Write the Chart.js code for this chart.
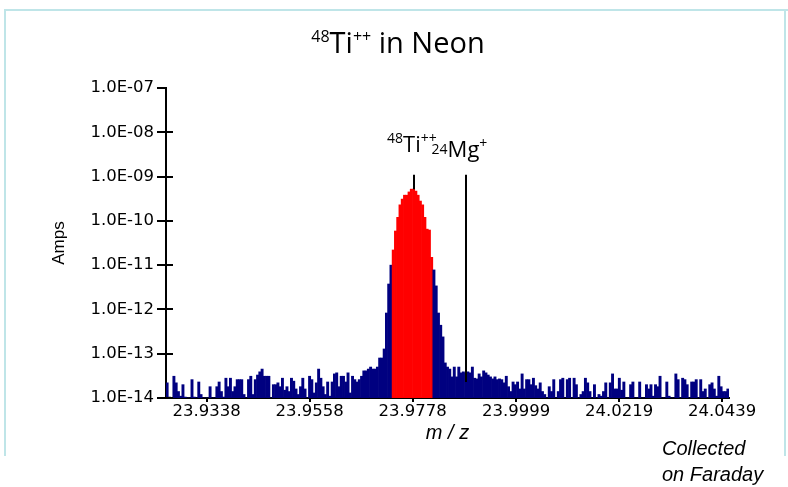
<!DOCTYPE html>
<html><head><meta charset="utf-8">
<script src="https://cdn.jsdelivr.net/npm/chart.js@4.4.1/dist/chart.umd.min.js"></script>
<style>html,body{margin:0;padding:0;background:#fff;}#wrap{width:788px;height:487px;position:relative;}</style>
</head><body><div id="wrap"><canvas id="c" width="788" height="487"></canvas></div>
<script>
// ---- data ----
const titleParts = ['48', 'Ti', '++', ' in Neon'];
const yAxisTitle = 'Amps';
const xAxisTitle = 'm / z';
const footnote = ['Collected', 'on Faraday'];
const xTickValues = [23.9338, 23.9558, 23.9778, 23.9999, 24.0219, 24.0439];
const xTickLabels = ['23.9338', '23.9558', '23.9778', '23.9999', '24.0219', '24.0439'];
const yTickValues = [1e-14, 1e-13, 1e-12, 1e-11, 1e-10, 1e-9, 1e-8, 1e-7];
const yTickLabels = ['1.0E-14', '1.0E-13', '1.0E-12', '1.0E-11', '1.0E-10', '1.0E-09', '1.0E-08', '1.0E-07'];
const scanStart = 23.92534;   // m/z of first scan step
const scanStep = 0.000483;    // m/z per scan step
const amps = [
 2.2e-14,1.05e-14,1.0e-14,3.1e-14,2.2e-14,1.4e-14,1.1e-14,2.0e-14,1.05e-14,1.0e-14,
 1.0e-14,2.6e-14,1.05e-14,1.0e-14,2.3e-14,1.2e-14,1.0e-14,1.0e-14,1.0e-14,1.8e-14,
 1.0e-14,1.0e-14,1.8e-14,2.3e-14,1.4e-14,1.05e-14,2.8e-14,1.8e-14,2.8e-14,1.4e-14,
 1.8e-14,2.6e-14,2.6e-14,2.6e-14,1.2e-14,1.0e-14,2.6e-14,3.1e-14,1.2e-14,2.6e-14,
 3.3e-14,3.9e-14,4.5e-14,3.1e-14,3.1e-14,3.1e-14,1.0e-14,2.0e-14,2.0e-14,2.2e-14,
 1.8e-14,2.8e-14,1.5e-14,1.8e-14,1.4e-14,2.8e-14,2.4e-14,1.6e-14,1.2e-14,1.8e-14,
 2.8e-14,1.6e-14,1.0e-14,3.1e-14,2.6e-14,1.3e-14,2.2e-14,4.5e-14,2.8e-14,1.8e-14,
 1.2e-14,2.3e-14,1.1e-14,2.3e-14,3.5e-14,3.7e-14,1.8e-14,3.1e-14,3.1e-14,2.3e-14,
 3.7e-14,1.3e-14,3.1e-14,2.6e-14,2.3e-14,2.6e-14,3.1e-14,4.1e-14,4.1e-14,4.5e-14,
 5.0e-14,4.5e-14,4.5e-14,5.0e-14,8.0e-14,8.0e-14,1.28e-13,8.3e-13,3.75e-12,1.0e-11,
 2.2e-11,5.9e-11,1.2e-10,2.3e-10,3.1e-10,3.8e-10,3.8e-10,4.5e-10,5.2e-10,5.2e-10,
 4.7e-10,3.8e-10,2.8e-10,2.3e-10,1.2e-10,6.5e-11,6.2e-11,1.5e-11,7.8e-12,3.4e-12,
 8.3e-13,4.4e-13,2.4e-13,6.2e-14,5.0e-14,4.5e-14,3.0e-14,5.0e-14,3.0e-14,5.0e-14,
 3.7e-14,3.9e-14,3.7e-14,3.9e-14,3.7e-14,5.0e-14,2.8e-14,2.7e-14,3.5e-14,3.0e-14,
 4.1e-14,3.7e-14,3.3e-14,3.0e-14,2.7e-14,3.0e-14,2.6e-14,2.7e-14,2.6e-14,2.2e-14,
 3.1e-14,1.8e-14,1.4e-14,2.3e-14,2.0e-14,2.3e-14,1.6e-14,3.5e-14,1.6e-14,2.6e-14,
 2.6e-14,2.0e-14,2.8e-14,1.9e-14,1.6e-14,2.2e-14,1.4e-14,1.2e-14,1.0e-14,1.8e-14,
 1.4e-14,2.6e-14,1.0e-14,1.4e-14,2.6e-14,2.8e-14,1.0e-14,2.6e-14,2.8e-14,1.0e-14,
 2.8e-14,2.0e-14,1.0e-14,1.2e-14,1.4e-14,2.8e-14,2.2e-14,1.4e-14,1.0e-14,2.0e-14,
 1.0e-14,1.2e-14,1.1e-14,1.4e-14,2.2e-14,1.0e-14,2.2e-14,3.5e-14,1.6e-14,1.6e-14,
 2.8e-14,1.5e-14,2.3e-14,1.0e-14,1.0e-14,2.0e-14,2.3e-14,1.0e-14,1.0e-14,2.3e-14,
 1.0e-14,1.0e-14,2.0e-14,1.6e-14,2.0e-14,1.1e-14,2.0e-14,1.8e-14,3.1e-14,1.0e-14,
 1.0e-14,2.3e-14,1.1e-14,1.0e-14,1.0e-14,3.5e-14,2.6e-14,1.0e-14,2.8e-14,2.6e-14,
 2.0e-14,1.0e-14,2.3e-14,2.3e-14,2.6e-14,1.0e-14,2.6e-14,1.4e-14,1.6e-14,1.0e-14,
 2.0e-14,2.2e-14,1.6e-14,1.1e-14,3.1e-14,1.8e-14,1.4e-14,1.4e-14,1.6e-14
];
const peakFirst = 100, peakLast = 117;       // integrated steps
const markerLabels = [['48', 'Ti', '++'], ['24', 'Mg', '+']];
const markerMz = [23.9781, 23.9891];
const markerTop = [1.1e-9, 1.1e-9];
const markerBottom = [5.2e-10, 2.3e-14];

// ---- chart ----
const points = amps.map((a, i) => ({ x: scanStart + i * scanStep, y: a }));
const NAVY = '#000080', RED = '#ff0000';
const TFONT = "'Open Sans', 'DejaVu Sans', sans-serif";
const AFONT = "'Liberation Sans', Arial, sans-serif";

function drawRich(ctx, parts, x, y, align) {
  let total = 0;
  parts.forEach(p => { ctx.font = p.size + 'px ' + TFONT; p.w = ctx.measureText(p.t).width; total += p.w; });
  let cx = align === 'center' ? x - total / 2 : x;
  ctx.textBaseline = 'alphabetic'; ctx.textAlign = 'left';
  parts.forEach(p => { ctx.font = p.size + 'px ' + TFONT; ctx.fillText(p.t, cx, y + (p.dy || 0)); cx += p.w; });
}

const decor = {
  id: 'decor',
  afterDatasetsDraw(chart) {
    const { ctx, scales: { x, y } } = chart;
    ctx.save();
    ctx.strokeStyle = '#000'; ctx.lineWidth = 2;
    markerMz.forEach((m, i) => {
      const px = Math.round(x.getPixelForValue(m));
      ctx.beginPath();
      ctx.moveTo(px, y.getPixelForValue(markerTop[i]));
      ctx.lineTo(px, y.getPixelForValue(markerBottom[i]));
      ctx.stroke();
    });
    ctx.restore();
  },
  afterDraw(chart) {
    const { ctx, scales: { x, y }, chartArea } = chart;
    ctx.save();
    ctx.strokeStyle = '#000'; ctx.lineWidth = 2;
    yTickValues.forEach((v, i) => {
      if (i === yTickValues.length - 1) return;
      const py = Math.round(y.getPixelForValue(v));
      ctx.beginPath(); ctx.moveTo(chartArea.left, py); ctx.lineTo(chartArea.left + 7, py); ctx.stroke();
    });
    ctx.fillStyle = '#000';
    drawRich(ctx, [
      { t: titleParts[0], size: 16, dy: -11 },
      { t: titleParts[1], size: 29 },
      { t: titleParts[2], size: 16, dy: -11 },
      { t: titleParts[3], size: 29 }
    ], 398, 53, 'center');
    const tx = x.getPixelForValue(markerMz[0]);
    drawRich(ctx, [
      { t: markerLabels[0][0], size: 14, dy: -9 },
      { t: markerLabels[0][1], size: 22 },
      { t: markerLabels[0][2], size: 14, dy: -9 }
    ], tx - 27, 152, 'left');
    const mx = x.getPixelForValue(markerMz[1]);
    drawRich(ctx, [
      { t: markerLabels[1][0], size: 14, dy: -3 },
      { t: markerLabels[1][1], size: 22 },
      { t: markerLabels[1][2], size: 14, dy: -9 }
    ], mx - 34, 157, 'left');
    ctx.font = 'italic 20px ' + AFONT;
    ctx.textAlign = 'left'; ctx.textBaseline = 'alphabetic';
    ctx.fillText(footnote[0], 662, 455);
    ctx.fillText(footnote[1], 662, 481);
    ctx.strokeStyle = '#bfe5e8'; ctx.lineWidth = 2;
    ctx.beginPath();
    ctx.moveTo(5, 456); ctx.lineTo(5, 10); ctx.lineTo(788, 10);
    ctx.stroke();
    ctx.beginPath(); ctx.moveTo(785, 10); ctx.lineTo(785, 456); ctx.stroke();
    ctx.restore();
  }
};

new Chart(document.getElementById('c'), {
  type: 'bar',
  data: {
    datasets: [{
      data: points,
      backgroundColor: c => (c.dataIndex >= peakFirst && c.dataIndex <= peakLast) ? RED : NAVY,
      borderWidth: 0,
      categoryPercentage: 1.0,
      barPercentage: 1.0
    }]
  },
  options: {
    responsive: false,
    animation: false,
    devicePixelRatio: 1,
    layout: { padding: { top: 88, right: 59, left: 0, bottom: 0 } },
    plugins: { legend: { display: false }, tooltip: { enabled: false }, title: { display: false } },
    scales: {
      x: {
        type: 'linear',
        min: scanStart - scanStep / 2,
        max: scanStart + (amps.length - 0.5) * scanStep,
        offset: false,
        afterBuildTicks: s => { s.ticks = xTickValues.map(v => ({ value: v })); },
        afterFit: s => { s.height = 89; },
        ticks: {
          autoSkip: false, maxRotation: 0, padding: 0, color: '#000',
          font: { family: "'DejaVu Sans'", size: 16.5 },
          callback: (v, i) => xTickLabels[i]
        },
        grid: { offset: false, drawOnChartArea: false, drawTicks: true, tickLength: 4, lineWidth: 2, color: '#000' },
        border: { display: true, width: 2, color: '#000' },
        title: { display: true, text: xAxisTitle, color: '#000', padding: { top: 0, bottom: 42 },
          font: { family: "'Liberation Sans'", size: 20, style: 'italic' } }
      },
      y: {
        type: 'logarithmic',
        min: 1e-14, max: 1e-7,
        beginAtZero: false,
        afterBuildTicks: s => { s.ticks = yTickValues.map(v => ({ value: v })); },
        afterFit: s => { s.width = 166; },
        ticks: {
          padding: 3, color: '#000',
          font: { family: "'DejaVu Sans'", size: 16.5 },
          callback: (v, i) => yTickLabels[i]
        },
        grid: { drawOnChartArea: false, drawTicks: true, tickLength: 9, lineWidth: 2, color: '#000' },
        border: { display: true, width: 2, color: '#000' },
        title: { display: true, text: yAxisTitle, color: '#000', padding: { top: 49, bottom: 0 },
          font: { family: "'Liberation Sans'", size: 17 } }
      }
    }
  },
  plugins: [decor]
});
</script></body></html>
